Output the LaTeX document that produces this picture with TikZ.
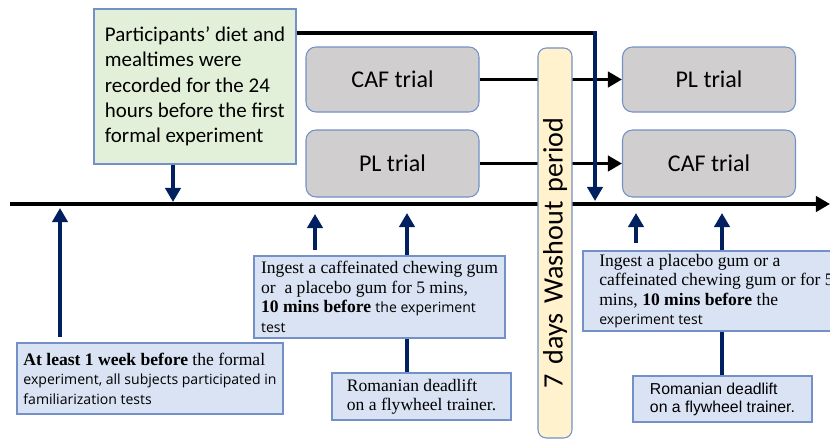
\documentclass[tikz,border=0pt]{standalone}
\usepackage{fontspec}
\setmainfont{Liberation Serif}
\newfontfamily\calfont{Carlito}
\newfontfamily\segfont{Open Sans}
\newfontfamily\arialfont{Liberation Sans}
\usetikzlibrary{arrows.meta}
\definecolor{navy}{HTML}{002060}
\definecolor{boxline}{HTML}{7391C8}
\definecolor{infofill}{HTML}{DAE3F3}
\definecolor{dietfill}{HTML}{E2F0D9}
\definecolor{trialfill}{HTML}{D0CECE}
\definecolor{washfill}{HTML}{FFF2CC}
\newcommand\sanstext[1]{{\segfont\fontsize{12}{16}\selectfont #1}}
\begin{document}
\begin{tikzpicture}[x=0.3mm, y=-0.3mm,
box/.style={draw=boxline, line width=0.9pt, inner sep=0pt},
info/.style={box, fill=infofill, align=left, font=\fontsize{15}{16.6}\selectfont},
trial/.style={box, fill=trialfill, rounded corners=3mm, minimum width=51.9mm, minimum height=19.5mm, font=\calfont\fontsize{20.5}{24}\selectfont},
navyarrow/.style={draw=navy, line width=3.8pt, -{Triangle[width=13pt,length=12pt]}},
blackarrow/.style={draw=black, line width=3.4pt, -{Triangle[width=13pt,length=12pt]}}]
\useasboundingbox (0,0) rectangle (830,439);

\coordinate (tl0) at (10,204);
\coordinate (tl1) at (830,204);
\draw[blackarrow] (tl0) -- (tl1);

\node[trial] (cafA) at (392.5,79.5) {CAF trial};
\node[trial, minimum height=20.1mm] (plA) at (392.5,163.5) {PL trial};
\node[trial] (plB) at (709,79.5) {PL trial};
\node[trial, minimum height=20.1mm] (cafB) at (709,163.5) {CAF trial};
\draw[blackarrow] (cafA) -- (plB);
\draw[blackarrow] (plA) -- (cafB);

\node[box, fill=washfill, rounded corners=2.5mm, rotate=90, minimum height=10.2mm, text width=87mm, inner xsep=15mm, align=left, font=\calfont\fontsize{24}{26}\selectfont] (wash) at (555,243) {7 days Washout period};

\node[box, fill=dietfill, align=left, minimum width=60.6mm, minimum height=46.5mm, font=\calfont\fontsize{17.9}{21.6}\selectfont] (diet) at (195,86.5) {Participants’ diet and\\mealtimes were\\recorded for the 24\\hours before the first\\formal experiment};
\coordinate (bend) at (595,33);
\coordinate (w1) at (595,201);
\draw[line width=3.4pt] (diet.east |- bend) -- (bend);
\draw[navyarrow, line width=3.4pt] ([yshift=1.7pt]bend) -- (w1);
\coordinate (d1) at (173,202);
\draw[navyarrow] (diet.south -| d1) -- (d1);

\node[info, minimum width=79.8mm, minimum height=21.3mm] (week) at (150,378.5) {\textbf{At least 1 week before} the formal\\\sanstext{experiment, all subjects participated in}\\\sanstext{familiarization tests}};
\coordinate (u1) at (60,208);
\draw[navyarrow, shorten <=1.5mm] (week.north -| u1) -- (u1);

\node[info, minimum width=53.7mm, minimum height=14.1mm] (romA) at (421.5,396.5) {Romanian deadlift\\on a flywheel trainer.};
\coordinate (u3) at (407,213);
\draw[navyarrow] (romA.north -| u3) -- (u3);
\node[info, minimum width=75.3mm, minimum height=24.6mm] (ingA) at (379.5,297) {Ingest a caffeinated chewing gum\\or\ \ a placebo gum for 5 mins,\\\textbf{10 mins before} \sanstext{the experiment}\\\sanstext{test}};
\coordinate (u2) at (315,214);
\draw[navyarrow, shorten <=1.5mm] (ingA.north -| u2) -- (u2);

\node[info, minimum width=53.7mm, minimum height=13.8mm, font=\arialfont\fontsize{13.5}{15.4}\selectfont] (romB) at (722.5,399) {Romanian deadlift\\on a flywheel trainer.};
\coordinate (u5) at (722,213);
\draw[navyarrow] (romB.north -| u5) -- (u5);
\node[info, minimum width=80.1mm, minimum height=24mm] (ingB) at (716.5,291) {Ingest a placebo gum or a\\caffeinated chewing gum or for 5\\mins, \textbf{10 mins before} the\\\sanstext{experiment test}};
\coordinate (u4) at (636,213);
\draw[navyarrow, shorten <=2.1mm] (ingB.north -| u4) -- (u4);
\end{tikzpicture}
\end{document}
